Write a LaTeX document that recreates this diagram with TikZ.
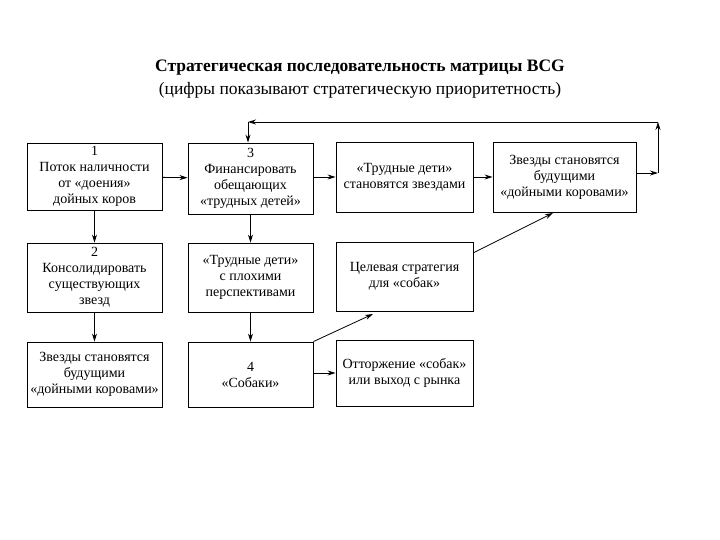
\documentclass[tikz,border=0pt]{standalone}
\usepackage{fontspec}
\setmainfont{Liberation Serif}
\usetikzlibrary{arrows.meta}
\begin{document}
\begin{tikzpicture}[x=1pt,y=-1pt,
 box/.style={draw,line width=0.9pt,align=center,inner sep=0pt,font=\fontsize{14}{16}\selectfont},
 arr/.style={line width=0.8pt,-{Stealth[length=8pt,width=5pt]}},
 ln/.style={line width=0.8pt}]
\useasboundingbox (0,0) rectangle (720,540);
\node[font=\fontsize{17.5}{20}\selectfont\bfseries] (t1) at (360,68) {Стратегическая последовательность матрицы BCG};
\node[font=\fontsize{17.5}{20}\selectfont] (t2) at (360,90) {(цифры показывают стратегическую приоритетность)};
\newcommand{\bx}[6]{\node[box,minimum width=#4-#2,minimum height=#5-#3] (#1) at ({(#2+#4)/2},{(#3+#5)/2}) {#6};}
\bx{a1}{27}{143}{162}{210}{1\\Поток наличности\\от «доения»\\дойных коров}
\bx{b1}{188}{143}{313}{214}{3\\Финансировать\\обещающих\\«трудных детей»}
\bx{c1}{336}{142}{473}{212}{«Трудные дети»\\становятся звездами}
\bx{d1}{493}{142}{636}{212}{Звезды становятся\\будущими\\«дойными коровами»}
\bx{a2}{27}{243}{162}{312}{2\\Консолидировать\\существующих\\звезд}
\bx{b2}{188}{243}{313}{312}{«Трудные дети»\\с плохими\\перспективами}
\bx{c2}{336}{242}{473}{311}{Целевая стратегия\\для «собак»}
\bx{a3}{27}{342}{162}{407}{Звезды становятся\\будущими\\«дойными коровами»}
\bx{b3}{188}{342}{313}{407}{4\\«Собаки»}
\bx{c3}{336}{340}{473}{406}{Отторжение «собак»\\или выход с рынка}
\draw[arr] (a1) -- (b1);
\draw[arr] (b1.east|-c1) -- (c1);
\draw[arr] (c1) -- (d1);
\draw[arr] (a1) -- (a2);
\draw[arr] (a2) -- (a3);
\draw[arr] (b1) -- (b2);
\draw[arr] (b2) -- (b3);
\draw[arr] (b3.east|-c3) -- (c3);
\draw[arr] (b3.north east) -- (373,314);
\draw[arr] (473,253) -- (553,213);
\coordinate (p1) at (658,173);
\coordinate (p2) at (658,122);
\coordinate (p3) at (248,122);
\draw[arr] (d1.east|-p1) -- (p1);
\draw[arr] (p1) -- (p2);
\draw[arr] (p2) -- (p3);
\draw[arr] (p3) -- (p3|-b1.north);
\end{tikzpicture}
\end{document}
